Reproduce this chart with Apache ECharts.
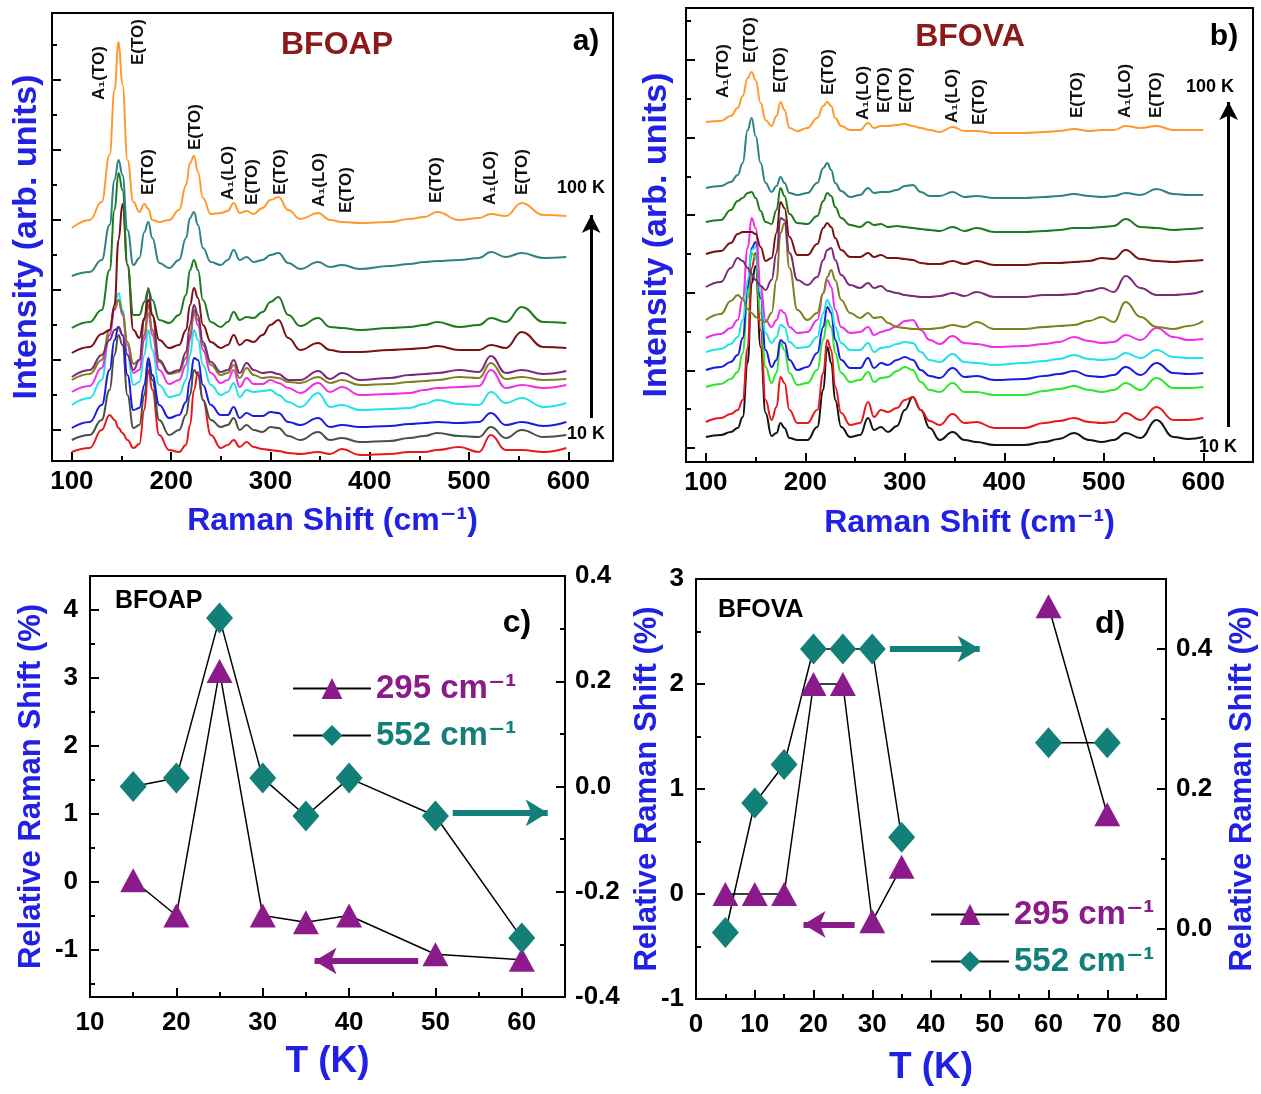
<!DOCTYPE html>
<html>
<head>
<meta charset="utf-8">
<title>Raman spectra BFOAP / BFOVA</title>
<script src="https://cdn.jsdelivr.net/npm/echarts@6.0.0/dist/echarts.min.js"></script>
<style>
  html, body { margin: 0; padding: 0; background: #fff; }
  #chart { width: 1261px; height: 1094px; }
</style>
</head>
<body>
<div id="chart"></div>
<script>
// ---------- panel a) BFOAP spectra, 10 K (red) .. 100 K (orange), offset in arb. units ----------
const shiftA = [100,118,130,138,143,147,151,156,162,168,173,177,181,188,198,208,215,219,223,227,232,240,250,257,263,269,276,283,292,300,308,318,330,348,360,372,390,420,440,455,468,490,510,522,537,553,575,598];
const apRed = [-22,-18,0,15,10,2,-3,-10,-18,-14,20,60,40,-5,-20,-22,-15,5,40,58,30,-5,-18,-15,-10,-17,-12,-17,-19,-20,-21,-23,-24,-22,-24,-19,-25,-24,-22,-22,-20,-17,-22,-5,-20,-20,-22,-18];
const apGray = [-10,-5,10,40,75,95,85,35,2,5,35,67,50,10,-5,0,15,35,60,55,30,10,3,5,12,0,5,0,-2,3,2,-6,-10,-2,-10,-8,-12,-11,-8,-6,-3,-6,-7,3,-8,0,-7,-5];
const apBlue = [2,8,25,60,90,103,95,55,20,22,45,72,55,25,12,15,28,50,72,70,45,25,15,15,23,12,17,14,14,18,17,8,5,12,3,5,3,4,6,7,8,7,8,17,5,8,4,8];
const apCyan = [25,32,50,95,125,137,120,75,45,48,75,100,80,45,33,35,50,75,100,90,65,45,35,38,47,33,40,38,39,40,35,28,23,37,23,25,20,21,22,26,30,26,25,38,27,32,23,27];
const apMagenta = [38,44,62,95,120,130,115,85,57,60,90,117,95,60,46,50,65,90,117,105,80,57,47,50,60,43,52,46,46,50,47,42,37,47,38,43,35,36,37,40,42,43,44,60,42,45,42,45];
const apOlive = [50,56,70,100,122,130,118,88,66,70,95,125,100,68,56,58,72,95,120,110,85,65,55,57,65,52,62,55,52,53,52,48,47,53,47,50,45,46,48,49,50,53,52,67,51,53,50,51];
const apPurple = [53,60,75,90,100,103,95,75,60,70,110,142,115,70,57,60,78,105,125,115,88,68,58,60,70,57,67,60,57,58,56,50,50,59,51,57,50,52,55,56,57,60,58,74,57,60,56,59];
const apMaroon = [77,83,96,100,125,190,226,165,100,92,112,130,115,90,82,85,100,125,142,132,105,88,82,85,95,85,90,88,95,105,110,92,80,87,80,78,78,80,81,82,84,80,80,85,82,98,83,82];
const apGreen = [102,108,120,160,220,257,240,165,115,115,128,140,130,110,107,115,135,160,170,160,130,108,103,108,118,110,113,112,118,128,133,115,104,112,103,102,100,102,103,105,108,103,105,112,108,123,108,107];
const apTeal = [154,158,170,205,250,270,255,200,165,172,198,208,192,167,162,170,192,212,218,205,182,168,165,170,180,170,173,168,170,175,177,167,161,168,163,165,161,164,166,168,169,170,172,178,173,177,172,173];
const apOrange = [202,210,228,275,340,388,345,270,228,218,226,221,210,208,210,220,245,267,274,258,232,216,217,219,227,217,219,216,222,230,233,220,211,217,210,208,207,208,211,213,218,210,212,216,214,227,215,214];

// ---------- panel b) BFOVA spectra ----------
const shiftB = [100,115,125,132,137,142,146,150,155,160,166,171,175,179,184,192,202,212,218,222,226,230,236,245,255,263,269,276,283,292,300,308,316,325,335,348,360,372,390,420,440,455,470,485,498,510,522,537,553,570,585,600];
const vaBlack = [11,13,16,20,31,85,165,182,101,35,12,15,25,20,10,8,8,21,58,101,85,48,21,11,13,30,18,21,16,22,38,51,38,20,8,16,8,6,3,3,6,9,15,8,6,8,15,10,28,11,9,11];
const vaRed = [26,30,34,38,48,100,180,195,118,48,28,41,71,65,38,25,25,38,75,108,98,61,35,23,25,46,31,38,36,40,48,51,38,27,23,34,25,26,20,20,25,27,30,26,25,26,35,28,41,28,28,30];
const vaLime = [61,64,69,76,95,150,195,190,135,81,65,75,105,98,75,63,65,78,108,128,121,95,75,66,68,76,66,70,71,77,81,78,66,58,56,65,56,56,53,53,57,59,62,58,56,58,65,58,70,60,60,61];
const vaBlue = [78,81,86,93,110,160,200,206,150,98,81,88,108,105,88,78,81,95,121,141,135,108,88,80,80,90,80,85,83,88,91,88,78,72,70,80,71,72,68,69,72,74,77,72,71,73,81,73,85,75,74,75];
const vaCyan = [96,99,104,111,128,168,198,201,155,115,105,111,123,121,106,100,101,111,135,148,141,121,105,98,98,105,96,100,101,104,106,105,96,88,86,94,86,85,83,85,87,89,93,89,88,89,95,90,98,91,90,90];
const vaMagenta = [110,114,120,128,150,200,230,220,162,128,121,128,138,135,121,115,116,128,155,168,161,138,121,115,116,121,113,116,118,122,127,128,118,108,104,112,105,104,101,102,104,106,111,107,105,106,113,108,120,111,108,109];
const vaOlive = [128,134,147,153,149,139,135,131,128,126,135,168,215,225,180,138,128,135,155,171,178,168,148,135,130,135,130,131,125,121,120,119,119,119,120,123,121,126,119,119,121,122,123,127,131,126,146,131,121,119,122,127];
const vaPurple = [161,166,180,190,187,180,174,168,162,158,168,195,230,228,195,168,163,171,188,198,200,188,173,163,160,165,160,162,157,155,153,152,151,151,152,155,152,156,151,151,153,153,154,157,160,156,172,160,153,153,154,157];
const vaMaroon = [194,197,205,214,216,216,216,214,201,187,190,215,246,240,211,193,193,204,220,225,221,210,198,191,191,195,191,193,190,190,189,188,185,184,184,187,184,187,183,183,185,185,186,187,190,189,198,189,187,186,187,188];
const vaGreen = [226,228,238,247,250,255,256,250,237,226,224,238,260,252,234,225,224,232,247,255,252,241,230,223,221,226,223,224,221,222,221,220,219,218,217,221,217,220,216,216,217,218,220,220,221,222,229,221,220,218,219,220];
const vaTeal = [260,262,266,273,285,318,330,312,285,265,256,262,271,265,255,253,255,265,280,285,278,265,257,251,253,260,255,256,256,258,262,263,256,252,252,256,251,252,250,250,251,252,254,252,251,252,255,253,259,254,253,253];
const vaOrange = [326,327,332,340,352,370,376,368,345,328,322,332,346,338,320,317,320,330,342,346,342,330,322,318,318,325,320,322,322,323,324,322,320,318,316,321,317,317,315,315,316,317,319,317,318,318,322,320,322,318,318,318];

// ---------- panel c) BFOAP relative shift ----------
const cTemp = [15,20,25,30,35,40,50,60];
const c295 = [0.02,-0.5,3.1,-0.5,-0.6,-0.5,-1.07,-1.15];
const c552 = [0.0,0.016,0.32,0.016,-0.056,0.016,-0.056,-0.288];

// ---------- panel d) BFOVA relative shift (no measurement between 35 K and 60 K) ----------
const dTemp = [5,10,15,20,25,30,35,60,70];
const d295 = [0,0,0,2.0,2.0,-0.26,0.26,2.74,0.76];
const d552 = [-0.005,0.18,0.235,0.40,0.40,0.40,0.131,0.266,0.266];
const dBreakAfter = 35;

// mode assignments
const aModeNames = ['A₁(TO)','E(TO)','E(TO)','E(TO)','A₁(LO)','E(TO)','E(TO)','A₁(LO)','E(TO)','E(TO)','A₁(LO)','E(TO)'];
const bModeNames = ['A₁(TO)','E(TO)','E(TO)','E(TO)','A₁(LO)','E(TO)','E(TO)','A₁(LO)','E(TO)','E(TO)','A₁(LO)','E(TO)'];

// ---------- layout / style ----------
const aModeAt = [[128,330],[167,365],[177.5,235],[224,280],[258,230],[282,225],[310,235],[349.5,223],[376.7,217],[467,227],[521.5,225],[553.7,235]];
const bModeAt = [[118,350],[145,385],[175,355],[223,353],[258,328],[279,335],[301.6,335],[347.5,325],[375,323],[473.7,330],[521.6,330],[553,330]];

const SANS = '"Liberation Sans", Arial, "DejaVu Sans", sans-serif';
const BLUE = '#2121e6';
const PURPLE = '#8b1a8b';
const TEAL = '#128079';
const DARKRED = '#8b1a1a';

const apSpectra = [apRed, apGray, apBlue, apCyan, apMagenta, apOlive, apPurple, apMaroon, apGreen, apTeal, apOrange];
const apColors = ['#e8191e','#4a5046','#1c1ce0','#22e2e6','#f02ee8','#80801c','#7b2a7b','#7a1212','#1f7a1f','#2e8282','#ff9a2e'];
const vaSpectra = [vaBlack, vaRed, vaLime, vaBlue, vaCyan, vaMagenta, vaOlive, vaPurple, vaMaroon, vaGreen, vaTeal, vaOrange];
const vaColors = ['#141414','#e8191e','#2ee62e','#1c1ce0','#22e2e6','#f02ee8','#80801c','#7b2a7b','#7a1212','#1f7a1f','#2e8282','#ff9a2e'];

function range(a, b, step) {
  const r = [];
  for (let v = a; v <= b + 1e-9; v += step) r.push(+v.toFixed(4));
  return r;
}

function axis(o) {
  const ax = {
    type: 'value',
    gridIndex: o.grid,
    position: o.pos,
    min: o.min,
    max: o.max,
    axisLine: { show: !o.minor, onZero: false, lineStyle: { color: '#000', width: 2 } },
    axisTick: {
      show: true, inside: true, length: o.minor ? 5 : 9, customValues: o.ticks,
      lineStyle: { color: '#000', width: 2 }
    },
    axisLabel: { show: false },
    splitLine: { show: false },
    nameMoveOverlap: false
  };
  if (o.labels) {
    ax.axisLabel = {
      show: true, customValues: o.labels, color: '#000', fontWeight: 'bold',
      fontFamily: SANS, fontSize: o.fontSize || 26, margin: o.margin || 8
    };
    if (o.fmt) ax.axisLabel.formatter = o.fmt;
  }
  if (o.name) {
    ax.name = o.name;
    ax.nameLocation = 'middle';
    ax.nameGap = o.nameGap;
    if (o.nameRotate !== undefined) ax.nameRotate = o.nameRotate;
    ax.nameTextStyle = { color: BLUE, fontWeight: 'bold', fontFamily: SANS, fontSize: o.nameSize };
  }
  return ax;
}

const fmt1 = v => v.toFixed(1);

const xAxes = [
  // a
  axis({ grid: 0, pos: 'bottom', min: 80, max: 645, ticks: range(100, 600, 100), labels: range(100, 600, 100),
         name: 'Raman Shift (cm⁻¹)', nameGap: 44, nameSize: 32 }),
  axis({ grid: 0, pos: 'bottom', min: 80, max: 645, ticks: range(150, 550, 100), minor: true }),
  // b
  axis({ grid: 1, pos: 'bottom', min: 80, max: 650, ticks: range(100, 600, 100), labels: range(100, 600, 100),
         name: 'Raman Shift (cm⁻¹)', nameGap: 45, nameSize: 32 }),
  axis({ grid: 1, pos: 'bottom', min: 80, max: 650, ticks: range(150, 550, 100), minor: true }),
  // c
  axis({ grid: 2, pos: 'bottom', min: 10, max: 65, ticks: range(10, 60, 10), labels: range(10, 60, 10),
         fontSize: 26, margin: 13, name: 'T (K)', nameGap: 46, nameSize: 37 }),
  axis({ grid: 2, pos: 'bottom', min: 10, max: 65, ticks: range(15, 55, 10), minor: true }),
  // d
  axis({ grid: 3, pos: 'bottom', min: 0, max: 80, ticks: range(0, 80, 10), labels: range(0, 80, 10),
         fontSize: 26, margin: 13, name: 'T (K)', nameGap: 50, nameSize: 37 }),
  axis({ grid: 3, pos: 'bottom', min: 0, max: 80, ticks: range(5, 75, 10), minor: true })
];

const yAxes = [
  // a
  axis({ grid: 0, pos: 'left', min: -31, max: 417, ticks: range(0, 350, 70),
         name: 'Intensity (arb. units)', nameGap: 8, nameSize: 34, nameRotate: 90 }),
  axis({ grid: 0, pos: 'left', min: -31, max: 417, ticks: range(35, 385, 70), minor: true }),
  // b
  axis({ grid: 1, pos: 'left', min: -14, max: 440, ticks: range(0, 388, 77.6),
         name: 'Intensity (arb. units)', nameGap: 12, nameSize: 34, nameRotate: 90 }),
  axis({ grid: 1, pos: 'left', min: -14, max: 440, ticks: range(38.8, 426.8, 77.6), minor: true }),
  // c left
  axis({ grid: 2, pos: 'left', min: -1.7, max: 4.5, ticks: range(-1, 4, 1), labels: range(-1, 4, 1),
         fontSize: 26, margin: 12,
         name: 'Relative Raman Shift (%)', nameGap: 43, nameSize: 31, nameRotate: 90 }),
  axis({ grid: 2, pos: 'left', min: -1.7, max: 4.5, ticks: range(-1.5, 3.5, 1), minor: true }),
  // c right
  axis({ grid: 2, pos: 'right', min: -0.4, max: 0.4, ticks: range(-0.4, 0.4, 0.2), labels: range(-0.4, 0.4, 0.2),
         fontSize: 26, margin: 10, fmt: fmt1 }),
  axis({ grid: 2, pos: 'right', min: -0.4, max: 0.4, ticks: range(-0.3, 0.3, 0.2), minor: true }),
  // d left
  axis({ grid: 3, pos: 'left', min: -1, max: 3, ticks: range(-1, 3, 1), labels: range(-1, 3, 1),
         fontSize: 26, margin: 12,
         name: 'Relative Raman Shift (%)', nameGap: 33, nameSize: 31, nameRotate: 90 }),
  axis({ grid: 3, pos: 'left', min: -1, max: 3, ticks: range(-0.5, 2.5, 1), minor: true }),
  // d right
  axis({ grid: 3, pos: 'right', min: -0.1, max: 0.5, ticks: range(0, 0.4, 0.2), labels: range(0, 0.4, 0.2),
         fontSize: 26, margin: 10, fmt: fmt1,
         name: 'Relative Raman Shift (%)', nameGap: 61, nameSize: 31, nameRotate: 90 }),
  axis({ grid: 3, pos: 'right', min: -0.1, max: 0.5, ticks: [0.1, 0.3], minor: true })
];

function spectrum(xs, ys, color, xi, yi) {
  return {
    type: 'line', xAxisIndex: xi, yAxisIndex: yi,
    data: xs.map((x, i) => [x, ys[i]]),
    showSymbol: false, symbol: 'none', smooth: 0.45, smoothMonotone: 'x',
    lineStyle: { color: color, width: 2 }, itemStyle: { color: color },
    silent: true, z: 2
  };
}

function arrow(from, to, color, width, size) {
  return {
    silent: true, symbol: ['none', 'arrow'], symbolSize: size,
    label: { show: false }, emphasis: { disabled: true },
    lineStyle: { color: color, width: width, type: 'solid' },
    data: [[{ coord: from }, { coord: to }]]
  };
}

function points(ts, vs, breakAfter) {
  const out = [];
  ts.forEach((t, i) => {
    out.push([t, vs[i]]);
    if (t === breakAfter) out.push([t, '-']);
  });
  return out;
}

function shiftSeries(name, data, xi, yi, symbol, size, color) {
  return {
    type: 'line', name: name, xAxisIndex: xi, yAxisIndex: yi, data: data,
    symbol: symbol, symbolSize: size, showSymbol: true, connectNulls: false,
    itemStyle: { color: color }, lineStyle: { color: '#000', width: 1.5 },
    z: 3
  };
}

const series = [];
apSpectra.forEach((ys, i) => series.push(spectrum(shiftA, ys, apColors[i], 0, 0)));
series[series.length - 1].markLine = arrow([623, 12], [623, 215], '#000', 3, [14, 18]);
vaSpectra.forEach((ys, i) => series.push(spectrum(shiftB, ys, vaColors[i], 2, 2)));
series[series.length - 1].markLine = arrow([625.5, 21], [625.5, 346], '#000', 3, [14, 18]);

const c295s = shiftSeries('295 cm⁻¹', points(cTemp, c295), 4, 4, 'triangle', [26, 24], PURPLE);
c295s.markLine = arrow([48, -1.17], [36, -1.17], PURPLE, 6, [20, 22]);
const c552s = shiftSeries('552 cm⁻¹', points(cTemp, c552), 4, 6, 'diamond', [27, 31], TEAL);
c552s.markLine = arrow([52, -0.05], [63, -0.05], TEAL, 6, [20, 22]);
const d295s = shiftSeries('295 cm⁻¹', points(dTemp, d295, dBreakAfter), 6, 8, 'triangle', [26, 24], PURPLE);
d295s.markLine = arrow([27, -0.29], [18.3, -0.29], PURPLE, 6, [20, 22]);
const d552s = shiftSeries('552 cm⁻¹', points(dTemp, d552, dBreakAfter), 6, 10, 'diamond', [27, 31], TEAL);
d552s.markLine = arrow([33, 0.4], [48.3, 0.4], TEAL, 6, [20, 22]);
series.push(c295s, c552s, d295s, d552s);

function legendAt(left, top) {
  return {
    left: left, top: top, orient: 'vertical', selectedMode: false,
    itemWidth: 78, itemHeight: 26, itemGap: 14,
    textStyle: { fontFamily: SANS, fontWeight: 'bold', fontSize: 33 },
    data: [
      { name: '295 cm⁻¹', textStyle: { color: PURPLE } },
      { name: '552 cm⁻¹', textStyle: { color: TEAL } }
    ]
  };
}

const gridBox = { show: true, borderColor: '#000', borderWidth: 2, backgroundColor: 'transparent' };

const chart = echarts.init(document.getElementById('chart'));
chart.setOption({
  animation: false,
  backgroundColor: '#fff',
  textStyle: { fontFamily: SANS },
  grid: [
    Object.assign({ left: 52, top: 13, width: 561, height: 448 }, gridBox),
    Object.assign({ left: 686, top: 8, width: 567, height: 454 }, gridBox),
    Object.assign({ left: 90, top: 576, width: 475, height: 421 }, gridBox),
    Object.assign({ left: 696, top: 579, width: 470, height: 420 }, gridBox)
  ],
  xAxis: xAxes,
  yAxis: yAxes,
  legend: [legendAt(287, 667), legendAt(925, 893)],
  series: series
});

// text annotations
const g = [];
function txt(x, y, text, font, fill, align, rot) {
  g.push({
    type: 'text', x: x, y: y, rotation: rot || 0, silent: true, z: 10,
    style: { text: text, font: font, fill: fill, align: align || 'left', verticalAlign: 'middle' }
  });
}
const modeFont = 'bold 17px ' + SANS;
aModeNames.forEach((t, i) => {
  const p = chart.convertToPixel({ xAxisIndex: 0, yAxisIndex: 0 }, aModeAt[i]);
  txt(p[0], p[1], t, modeFont, '#111', 'left', Math.PI / 2);
});
bModeNames.forEach((t, i) => {
  const p = chart.convertToPixel({ xAxisIndex: 2, yAxisIndex: 2 }, bModeAt[i]);
  txt(p[0], p[1], t, modeFont, '#111', 'left', Math.PI / 2);
});
txt(337, 45, 'BFOAP', 'bold 32px ' + SANS, DARKRED, 'center');
txt(586, 42, 'a)', 'bold 30px ' + SANS, '#000', 'center');
txt(970, 37, 'BFOVA', 'bold 32px ' + SANS, DARKRED, 'center');
txt(1224, 37, 'b)', 'bold 30px ' + SANS, '#000', 'center');
txt(557, 188, '100 K', 'bold 18px ' + SANS, '#000');
txt(567, 434, '10 K', 'bold 18px ' + SANS, '#000');
txt(1186, 87, '100 K', 'bold 18px ' + SANS, '#000');
txt(1199, 447, '10 K', 'bold 18px ' + SANS, '#000');
txt(115, 601, 'BFOAP', 'bold 25px ' + SANS, '#000');
txt(517, 623, 'c)', 'bold 32px ' + SANS, '#000', 'center');
txt(718, 610, 'BFOVA', 'bold 25px ' + SANS, '#000');
txt(1110, 624, 'd)', 'bold 32px ' + SANS, '#000', 'center');
chart.setOption({ graphic: g });
</script>
</body>
</html>
